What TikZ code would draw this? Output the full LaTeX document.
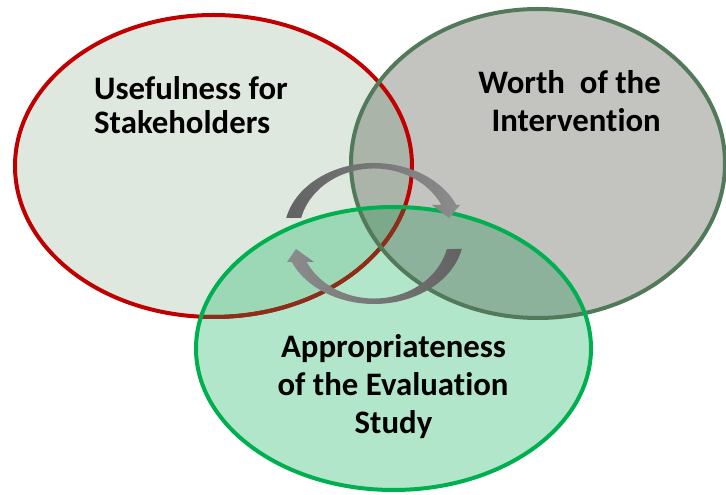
\documentclass[tikz,border=0pt]{standalone}
\usepackage{fontspec}
\setmainfont{Carlito}[RawFeature={-liga;-clig;-calt}]
\definecolor{redfill}{HTML}{DFE8DE}
\definecolor{grayfill}{HTML}{C3C3BF}
\definecolor{greenfill}{HTML}{B1E6CA}
\definecolor{rgfill}{HTML}{AAB4A9}
\definecolor{rgrfill}{HTML}{9CD8B5}
\definecolor{ggfill}{HTML}{8DB29B}
\definecolor{allfill}{HTML}{7BA98A}
\definecolor{redline}{HTML}{C00000}
\definecolor{brownline}{HTML}{8B2E1A}
\definecolor{grayline}{HTML}{527A5A}
\definecolor{greenline}{HTML}{00B050}
\definecolor{arrowdark}{HTML}{626262}
\definecolor{arrowlight}{HTML}{8C8C8C}
\tikzset{
  redE/.style={insert path={(213.5,329) ellipse [x radius=198.5, y radius=151]}},
  grayE/.style={insert path={(538,331.5) ellipse [x radius=187, y radius=154.5]}},
  greenE/.style={insert path={(393.5,146.5) ellipse [x radius=197.5, y radius=141.5]}},
  rim/.style={line width=4pt},
  lbl/.style={inner sep=0pt, font=\fontsize{32.8}{36}\selectfont\bfseries, text=black}
}
\begin{document}
\begin{tikzpicture}[x=1pt,y=1pt]
\useasboundingbox (0,0) rectangle (726,495);
% fills
\fill[redfill, redE];
\fill[grayfill, grayE];
\fill[greenfill, greenE];
\begin{scope}
  \clip[redE];
  \fill[rgfill, grayE];
\end{scope}
\begin{scope}
  \clip[redE];
  \fill[rgrfill, greenE];
\end{scope}
\begin{scope}
  \clip[grayE];
  \fill[ggfill, greenE];
\end{scope}
\begin{scope}
  \clip[redE];
  \clip[grayE];
  \fill[allfill, greenE];
\end{scope}
% rims
\draw[rim, redline, redE];
\begin{scope}
  \clip[greenE];
  \draw[rim, brownline, redE];
\end{scope}
\draw[rim, grayline, grayE];
\draw[rim, greenline, greenE];
% circular arrows
\shade[left color=arrowdark, right color=arrowlight]
  (286.2,277) arc[start angle=167.3, end angle=23.85, x radius=90, y radius=70.5]
  -- (460,290) -- (449,277) -- (432,290) -- (441.4,290)
  arc[start angle=26, end angle=166.2, x radius=75, y radius=65] -- cycle;
\shade[left color=arrowlight, right color=arrowdark]
  (461.8,246) arc[start angle=347.3, end angle=203.85, x radius=90, y radius=70.5]
  -- (287,233) -- (296,246) -- (314,233) -- (306.6,233)
  arc[start angle=206, end angle=346.2, x radius=75, y radius=65] -- cycle;
% labels
\node[lbl, anchor=base west] (use1) at (94,395) {Usefulness for};
\node[lbl, anchor=base west] (use2) at (94,361) {Stakeholders};
\node[lbl, anchor=base east] (worth1) at (661,401) {Worth\ \ of the};
\node[lbl, anchor=base east] (worth2) at (661,363) {Intervention};
\node[lbl, anchor=base] (app1) at (393.5,137) {Appropriateness};
\node[lbl, anchor=base] (app2) at (393,99) {of the Evaluation};
\node[lbl, anchor=base] (app3) at (393.5,61) {Study};
\end{tikzpicture}
\end{document}
